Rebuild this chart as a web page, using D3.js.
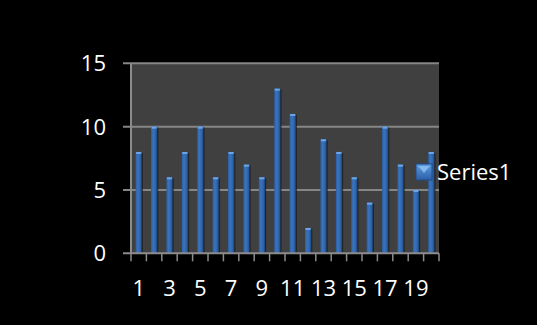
<!DOCTYPE html>
<html>
<head>
<meta charset="utf-8">
<script src="https://cdn.jsdelivr.net/npm/d3@7/dist/d3.min.js"></script>
<style>
  html, body { margin: 0; padding: 0; background: #000; }
  svg { display: block; }
  text { font-family: "Open Sans", sans-serif; fill: #fff; }
</style>
</head>
<body>
<svg id="chart" width="537" height="325"></svg>
<script>
// Chart data
const categories = d3.range(1, 21).map(String);
const series1 = [8, 10, 6, 8, 10, 6, 8, 7, 6, 13, 11, 2, 9, 8, 6, 4, 10, 7, 5, 8];
const yTicks = [0, 5, 10, 15];
const seriesName = "Series1";

const svg = d3.select("#chart");
const W = 537, H = 325;
svg.append("rect").attr("width", W).attr("height", H).attr("fill", "#000");

const plot = { left: 131, top: 63.3, right: 439, bottom: 253.3 };

const x = d3.scaleBand()
  .domain(categories)
  .range([plot.left, plot.right])
  .paddingInner(0.6)
  .paddingOuter(0.3);

const y = d3.scaleLinear().domain([0, 15]).range([plot.bottom, plot.top]);

// Gradients for the bevelled bars and legend key
const defs = svg.append("defs");
const gBar = defs.append("linearGradient").attr("id", "barGrad")
  .attr("x1", 0).attr("x2", 1).attr("y1", 0).attr("y2", 0);
gBar.append("stop").attr("offset", 0).attr("stop-color", "#2c5e9e");
gBar.append("stop").attr("offset", 0.35).attr("stop-color", "#3a74bf");
gBar.append("stop").attr("offset", 0.75).attr("stop-color", "#2d63aa");
gBar.append("stop").attr("offset", 1).attr("stop-color", "#1d447a");

const gLeg = defs.append("linearGradient").attr("id", "legGrad")
  .attr("x1", 0).attr("x2", 0).attr("y1", 0).attr("y2", 1);
gLeg.append("stop").attr("offset", 0).attr("stop-color", "#5b9be0");
gLeg.append("stop").attr("offset", 1).attr("stop-color", "#2c60a6");

// Plot area
svg.append("rect")
  .attr("x", plot.left).attr("y", plot.top)
  .attr("width", plot.right - plot.left)
  .attr("height", plot.bottom - plot.top)
  .attr("fill", "#404040");

// Horizontal gridlines with outward ticks
svg.append("g").selectAll("line")
  .data(yTicks.filter(d => d > 0))
  .join("line")
  .attr("x1", plot.left - 8).attr("x2", plot.right)
  .attr("y1", d => y(d)).attr("y2", d => y(d))
  .attr("stroke", "#868686").attr("stroke-width", 2);

// Bars
const bw = x.bandwidth();
const bars = svg.append("g").selectAll("g")
  .data(series1.map((v, i) => ({ c: categories[i], v })))
  .join("g");

// soft shadow to the right of each bar
bars.append("rect")
  .attr("x", d => x(d.c) + 1.2)
  .attr("y", d => y(d.v) + 1)
  .attr("width", bw)
  .attr("height", d => y(0) - y(d.v) - 1)
  .attr("fill", "#1a1a1a")
  .attr("opacity", 0.7);

bars.append("rect")
  .attr("x", d => x(d.c))
  .attr("y", d => y(d.v))
  .attr("width", bw)
  .attr("height", d => y(0) - y(d.v))
  .attr("fill", "url(#barGrad)");

// light cap on top of each bar
bars.append("rect")
  .attr("x", d => x(d.c) + 0.5)
  .attr("y", d => y(d.v))
  .attr("width", bw - 1)
  .attr("height", 2)
  .attr("fill", "#6aa6e8");

// Axis lines
svg.append("line")
  .attr("x1", plot.left).attr("x2", plot.left)
  .attr("y1", plot.top).attr("y2", plot.bottom)
  .attr("stroke", "#8c8c8c").attr("stroke-width", 2);
svg.append("line")
  .attr("x1", plot.left - 8).attr("x2", plot.right)
  .attr("y1", plot.bottom).attr("y2", plot.bottom)
  .attr("stroke", "#8c8c8c").attr("stroke-width", 2);

// Category tick marks on the band boundaries
const step = x.step();
const edges = categories.map(c => x(c) + bw / 2 - step / 2);
edges.push(plot.right);
svg.append("g").selectAll("line")
  .data(edges)
  .join("line")
  .attr("x1", d => d).attr("x2", d => d)
  .attr("y1", plot.bottom).attr("y2", plot.bottom + 8)
  .attr("stroke", "#8c8c8c").attr("stroke-width", 1.5);

// Value axis labels
svg.append("g").selectAll("text")
  .data(yTicks)
  .join("text")
  .attr("x", 106)
  .attr("y", d => y(d))
  .attr("dy", "0.36em")
  .attr("text-anchor", "end")
  .attr("font-size", 22)
  .text(d => d);

// Category labels (every other category)
svg.append("g").selectAll("text")
  .data(categories.filter((c, i) => i % 2 === 0))
  .join("text")
  .attr("x", d => x(d) + bw / 2)
  .attr("y", 295.5)
  .attr("text-anchor", "middle")
  .attr("font-size", 22)
  .text(d => d);

// Legend
const leg = svg.append("g").attr("transform", "translate(416,164)");
leg.append("rect").attr("width", 16).attr("height", 16)
  .attr("fill", "url(#legGrad)").attr("stroke", "#1f4a85").attr("stroke-width", 1);
leg.append("path").attr("d", "M2,2 L14,2 L8,9 Z").attr("fill", "#8cc0f2").attr("opacity", 0.85);
leg.append("text")
  .attr("x", 21).attr("y", 15.5)
  .attr("font-size", 22)
  .text(seriesName);
</script>
</body>
</html>
